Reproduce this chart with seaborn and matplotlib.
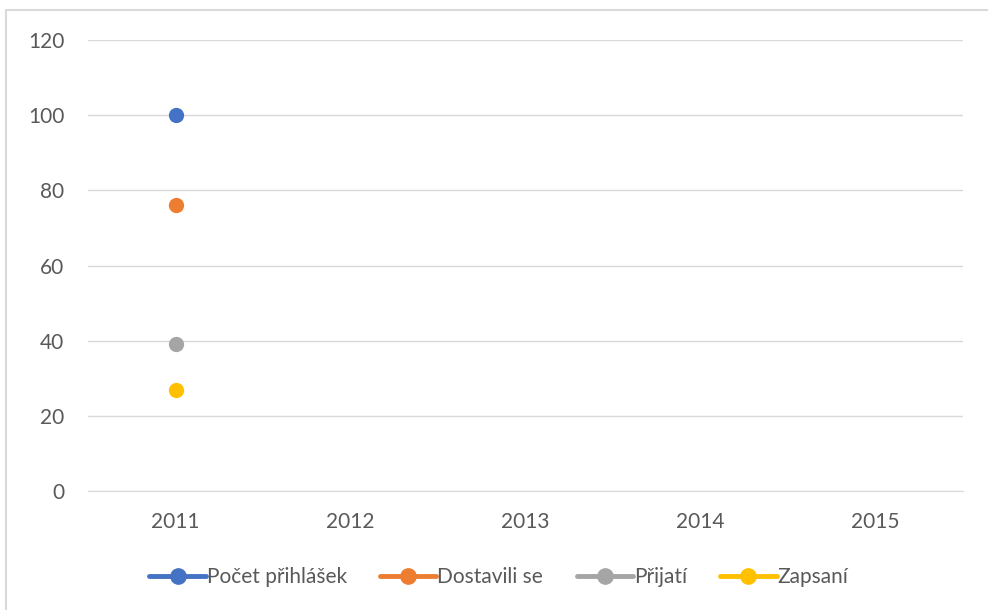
import numpy as np
import pandas as pd
import matplotlib.pyplot as plt
import matplotlib.lines as mlines
import seaborn as sns

years = [2011, 2012, 2013, 2014, 2015]
series = ['Počet přihlášek', 'Dostavili se', 'Přijatí', 'Zapsaní']
values_2011 = [100, 76, 39, 27]
colors = ['#4472C4', '#ED7D31', '#A5A5A5', '#FFC000']

df = pd.DataFrame({'year': [2011] * len(series), 'series': series, 'value': values_2011})

sns.set_style('white')
plt.rcParams['font.family'] = ['Lato', 'DejaVu Sans']

fig = plt.figure(figsize=(9.88, 6.10), dpi=100)
ax = fig.add_axes([88 / 988, 1 - 491 / 610, 875 / 988, 451 / 610])

sns.lineplot(data=df, x='year', y='value', hue='series', hue_order=series,
             palette=colors, marker='o', markersize=11, markeredgewidth=0,
             linewidth=3.5, legend=False, ax=ax)

ax.set_xlim(2010.5, 2015.5)
ax.set_ylim(0, 120)
ax.set_xticks(years)
ax.set_xticklabels([str(y) for y in years])
ax.set_yticks(range(0, 121, 20))
ax.yaxis.grid(True, color='#D9D9D9', linewidth=1)
ax.set_axisbelow(True)
for s in ['top', 'right', 'left']:
    ax.spines[s].set_visible(False)
ax.spines['bottom'].set_color('#D9D9D9')
ax.tick_params(axis='both', length=0, labelsize=15, labelcolor='#595959')
ax.tick_params(axis='x', pad=15)
ax.tick_params(axis='y', pad=17)
ax.set_xlabel('')
ax.set_ylabel('')

handles = [mlines.Line2D([], [], color=c, marker='o', markersize=11, linewidth=3.5)
           for c in colors]
fig.legend(handles, series, loc='center', bbox_to_anchor=(0.505, 1 - 577 / 610), ncol=4,
           frameon=False, fontsize=15, labelcolor='#595959', handlelength=2.7,
           handletextpad=0.05, columnspacing=1.6)

# chart frame
fig.add_artist(mlines.Line2D([6 / 988, 1], [1 - 10 / 610, 1 - 10 / 610],
                             transform=fig.transFigure, color='#D9D9D9', linewidth=1.5))
fig.add_artist(mlines.Line2D([6 / 988, 6 / 988], [0, 1 - 10 / 610],
                             transform=fig.transFigure, color='#D9D9D9', linewidth=1.5))

plt.savefig('out.png', dpi=100)
